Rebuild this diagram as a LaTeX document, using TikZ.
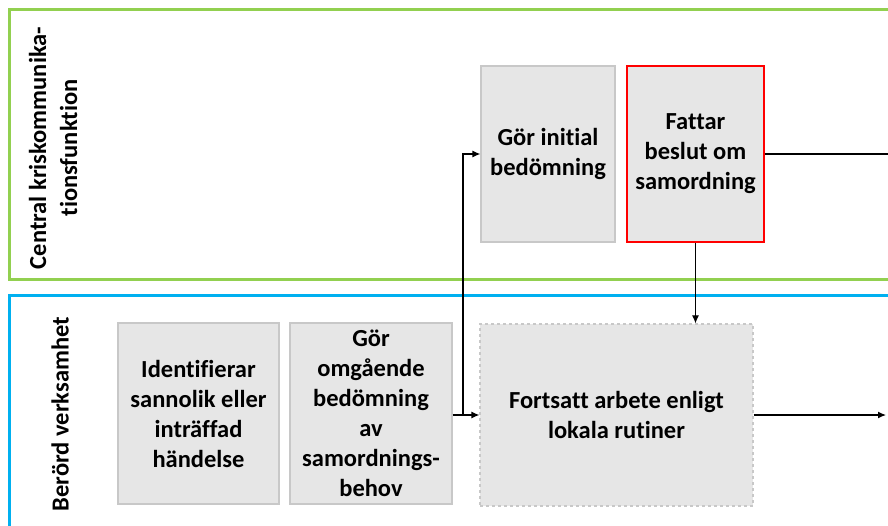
\documentclass[tikz,border=0pt]{standalone}
\usepackage{fontspec}
\setmainfont{Carlito}[Ligatures=NoCommon]
\usetikzlibrary{arrows.meta}

\definecolor{lanegreen}{RGB}{146,208,80}
\definecolor{laneblue}{RGB}{0,176,240}
\definecolor{boxfill}{RGB}{230,230,230}
\definecolor{boxline}{RGB}{200,200,200}

\tikzset{
  box/.style={draw=boxline, fill=boxfill, line width=1.2pt, align=center,
    font=\fontsize{24.5}{30}\selectfont\bfseries, inner sep=0pt},
  lanelabel/.style={rotate=90, align=center,
    font=\fontsize{24.5}{31}\selectfont\bfseries},
  arr/.style={-{Latex[length=8pt,width=7pt]}, line width=1.2pt},
  plain/.style={line width=1.2pt}
}

\begin{document}
\begin{tikzpicture}[x=1pt,y=-1pt]
        
        \useasboundingbox (0,0) rectangle (888,526);
        
        % lanes
        \draw[lanegreen,line width=3pt] (900,10) -- (9,10) -- (9,280) -- (900,280);
        \draw[laneblue,line width=3pt] (900,296) -- (9,296) -- (9,540);
        
        \node[lanelabel] (central) at (53,148) {Central kriskommunika-\\tionsfunktion};
        \node[lanelabel] (berord) at (60,414) {Berörd verksamhet};
        
        % boxes
        \node[box,minimum width=161,minimum height=181] (ident) at (198.5,413.5)
            {Identifierar\\sannolik eller\\inträffad\\händelse};
        \node[box,minimum width=162,minimum height=181] (omg) at (371,413.5)
            {Gör\\omgående\\bedömning\\av\\samordnings-\\behov};
        \node[box,minimum width=134,minimum height=176] (init) at (548,154)
            {Gör initial\\bedömning};
        \node[box,draw=red,line width=1.6pt,minimum width=137,minimum height=176] (beslut) at (695.5,154)
            {Fattar\\beslut om\\samordning};
        \node[box,dashed,minimum width=273,minimum height=182] (fort) at (616.5,415)
            {Fortsatt arbete enligt\\lokala rutiner};
        
        % connectors
        \coordinate (split) at (463,415);
        \coordinate (endtop) at (890,154);
        \coordinate (endbot) at (886,415);
        
        \draw[arr] (omg.east |- split) -- (fort.west);
        \draw[arr] (split) |- (init.west);
        \draw[plain] (beslut.east) -- (endtop);
        \draw[arr] (beslut.south) -- (beslut.south |- fort.north);
        \draw[arr] (fort.east) -- (endbot);
        
        \end{tikzpicture}
\end{document}
